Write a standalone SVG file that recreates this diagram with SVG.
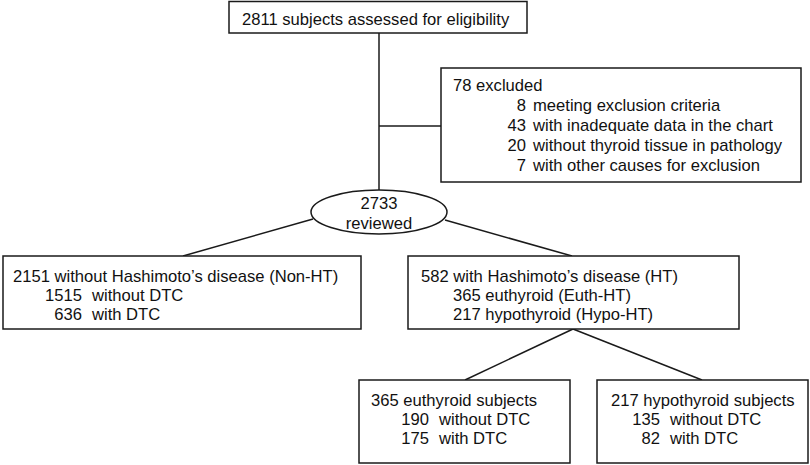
<svg xmlns="http://www.w3.org/2000/svg" width="810" height="465" viewBox="0 0 810 465">
<style>
.box{fill:#fff;stroke:#1a1a1a;stroke-width:1.5}
.ln{fill:none;stroke:#1a1a1a;stroke-width:1.5}
text{font-family:"Liberation Sans",Arial,sans-serif;font-size:16.6px;fill:#111}
.e{text-anchor:end}
.m{text-anchor:middle}
</style>
<rect width="810" height="465" fill="#fff"/>
<g id="connectors">
<line class="ln" x1="379" y1="33" x2="379" y2="190"/>
<line class="ln" x1="379" y1="126" x2="441" y2="126"/>
<line class="ln" x1="313" y1="219" x2="183" y2="256"/>
<line class="ln" x1="445" y1="220" x2="572" y2="256"/>
<line class="ln" x1="573" y1="329" x2="465" y2="380"/>
<line class="ln" x1="573" y1="329" x2="702" y2="380"/>
</g>
<g id="assessed">
<rect class="box" x="229" y="1.5" width="298" height="31.5"/>
<text x="242" y="25">2811 subjects assessed for eligibility</text>
</g>
<g id="excluded">
<rect class="box" x="441" y="68" width="360" height="114"/>
<text x="453" y="91">78 excluded</text>
<text class="e" x="526" y="111">8</text><text x="533" y="111">meeting exclusion criteria</text>
<text class="e" x="526" y="131">43</text><text x="533" y="131">with inadequate data in the chart</text>
<text class="e" x="526" y="151">20</text><text x="533" y="151">without thyroid tissue in pathology</text>
<text class="e" x="526" y="171">7</text><text x="533" y="171">with other causes for exclusion</text>
</g>
<g id="reviewed">
<ellipse class="box" cx="379" cy="212" rx="68" ry="22"/>
<text class="m" x="379" y="209">2733</text>
<text class="m" x="379" y="229">reviewed</text>
</g>
<g id="nonht">
<rect class="box" x="3" y="256" width="358" height="73"/>
<text x="13" y="282">2151 without Hashimoto’s disease (Non-HT)</text>
<text class="e" x="82" y="301">1515</text><text x="92" y="301">without DTC</text>
<text class="e" x="82" y="320">636</text><text x="92" y="320">with DTC</text>
</g>
<g id="ht">
<rect class="box" x="408" y="256" width="331" height="73"/>
<text x="421" y="282">582 with Hashimoto’s disease (HT)</text>
<text x="453" y="301">365 euthyroid (Euth-HT)</text>
<text x="453" y="320">217 hypothyroid (Hypo-HT)</text>
</g>
<g id="euthyroid">
<rect class="box" x="359" y="380" width="211" height="83"/>
<text x="371" y="406">365 euthyroid subjects</text>
<text class="e" x="429" y="425">190</text><text x="439" y="425">without DTC</text>
<text class="e" x="429" y="444">175</text><text x="439" y="444">with DTC</text>
</g>
<g id="hypothyroid">
<rect class="box" x="597" y="380" width="211" height="83"/>
<text x="611" y="406">217 hypothyroid subjects</text>
<text class="e" x="660" y="425">135</text><text x="670" y="425">without DTC</text>
<text class="e" x="660" y="444">82</text><text x="670" y="444">with DTC</text>
</g>
</svg>
